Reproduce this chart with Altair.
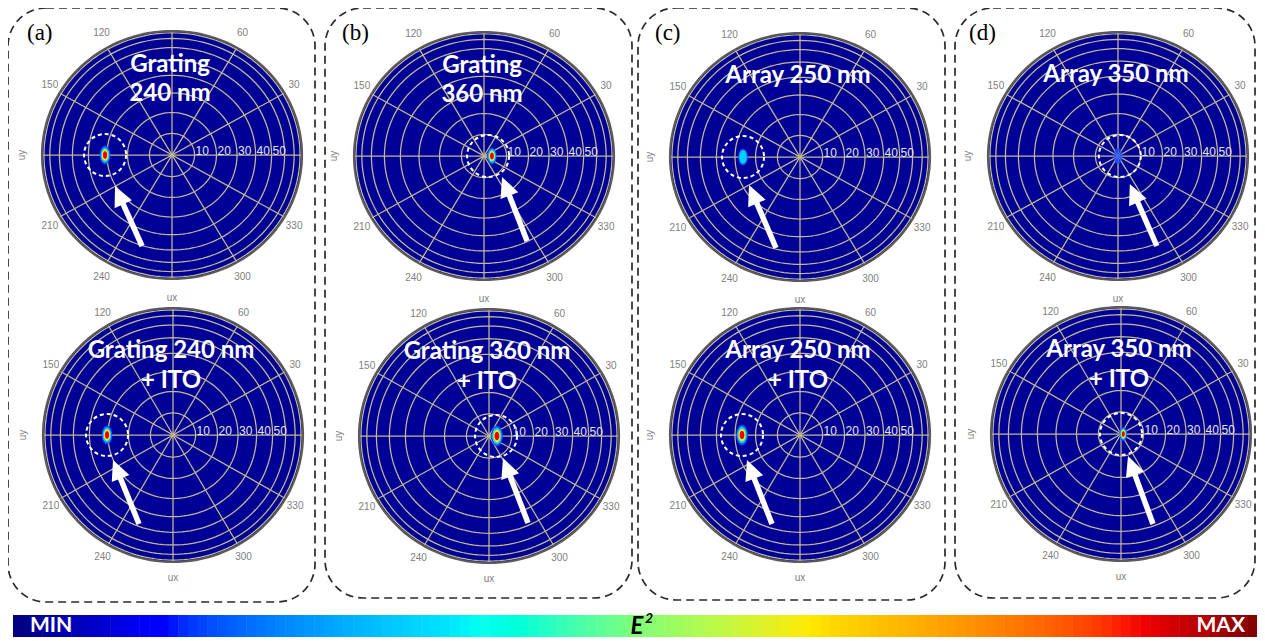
import numpy as np
import pandas as pd
import altair as alt

# ---------------- values ----------------
panel_tags = ["(a)", "(b)", "(c)", "(d)"]
title_top = [["Grating", "240 nm"], ["Grating", "360 nm"], ["Array 250 nm"], ["Array 350 nm"]]
title_bottom = [["Grating 240 nm", "+ ITO"], ["Grating 360 nm", "+ ITO"],
                ["Array 250 nm", "+ ITO"], ["Array 350 nm", "+ ITO"]]
ring_deg = [10, 20, 30, 40, 50, 60, 70, 80]          # polar-angle grid circles
ring_label_deg = [10, 20, 30, 40, 50]
spoke_deg = [0, 30, 60, 90, 120, 150]
azimuth_label_deg = [30, 60, 120, 150, 210, 240, 300, 330]
# emission spot: polar angle (deg), azimuth (deg), relative peak E^2, relative spread
spot_theta_top = [31.0, 3.5, 26.0, 0.0]
spot_phi_top = [180, 0, 180, 0]
spot_peak_top = [1.0, 0.95, 0.45, 0.15]
spot_spread_top = [0.95, 0.85, 0.85, 0.8]
spot_theta_bottom = [30.5, 3.5, 26.5, 1.0]
spot_phi_bottom = [180, 0, 180, 0]
spot_peak_bottom = [1.0, 1.0, 1.0, 0.9]
spot_spread_bottom = [0.95, 1.05, 1.05, 0.7]
# dashed marker circle centre (polar angle, azimuth)
mark_theta_top = [31.0, 1.8, 26.0, 0.8]
mark_theta_bottom = [30.5, 3.1, 26.5, 0.0]
colorbar_text = ["MIN", "E\u00b2", "MAX"]

# ---------------- layout / style ----------------
W, H = 1249, 630
centers_top = [(172, 155), (484, 156), (800, 157), (1118, 156)]
centers_bottom = [(173, 435), (489, 436), (800, 435), (1121, 434)]
RX, RY_TOP, RY_BOT = 130, 124, 127
boxes = [(8, 315, 8, 602), (325, 632, 8, 598), (638, 945, 8, 600), (955, 1255, 8, 598)]
tag_pos = [(27, 33), (342, 33), (655, 33), (969, 33)]
arrow_tip_top = [(10, 31), (14, 21), (6, 28), (10, 28)]
arrow_tail_top = [(37, 91), (39, 85), (33, 91), (37, 90)]
arrow_tip_bottom = [(6, 25), (7, 22), (5, 25), (7, 22)]
arrow_tail_bottom = [(32, 89), (32, 87), (30, 89), (32, 90)]
DISK = "#000096"
GRID = "#c2b994"
jet_stops = [0.0, 0.11, 0.125, 0.35, 0.375, 0.5, 0.64, 0.66, 0.89, 0.91, 1.0]
jet_cols = ["#000080", "#0000ff", "#0000ff", "#00e4ff", "#10fff0", "#7dff7a",
            "#ffea00", "#ffd700", "#ff1a00", "#ef0000", "#800000"]

xs = alt.Scale(domain=[8, 8 + W], nice=False, zero=False)
ys = alt.Scale(domain=[8 + H, 8], nice=False, zero=False)


def XY(xf="x", yf="y"):
    return dict(x=alt.X(f"{xf}:Q", scale=xs, axis=None), y=alt.Y(f"{yf}:Q", scale=ys, axis=None))


panels = []
for c in range(4):
    for r, cen in enumerate([centers_top[c], centers_bottom[c]]):
        top = r == 0
        panels.append(dict(
            pid=f"{c}{r}", cx=cen[0], cy=cen[1], rx=RX, ry=RY_TOP if top else RY_BOT,
            titles=title_top[c] if top else title_bottom[c],
            st=(spot_theta_top if top else spot_theta_bottom)[c],
            sp=(spot_phi_top if top else spot_phi_bottom)[c],
            pk=(spot_peak_top if top else spot_peak_bottom)[c],
            sw=(spot_spread_top if top else spot_spread_bottom)[c],
            mt=(mark_theta_top if top else mark_theta_bottom)[c],
            tip=(arrow_tip_top if top else arrow_tip_bottom)[c],
            tail=(arrow_tail_top if top else arrow_tail_bottom)[c],
            top=top))

# disks (filled)
rows = []
t = np.linspace(0, np.pi, 181)
for p in panels:
    for ti in t:
        rows.append(dict(pid=p["pid"], x=p["cx"] + p["rx"] * np.cos(ti),
                         y=p["cy"] - p["ry"] * np.sin(ti), y2=p["cy"] + p["ry"] * np.sin(ti)))
disk_df = pd.DataFrame(rows)

# rings
rows = []
tt = np.linspace(0, 2 * np.pi, 145)
for p in panels:
    for d in ring_deg + [90]:
        u = np.sin(np.radians(d))
        for k, ti in enumerate(tt):
            rows.append(dict(key=f"{p['pid']}_{d}", ring=d, o=k,
                             x=p["cx"] + p["rx"] * u * np.cos(ti),
                             y=p["cy"] - p["ry"] * u * np.sin(ti)))
ring_df = pd.DataFrame(rows)
grid_df = ring_df[ring_df.ring < 90]
edge_df = ring_df[ring_df.ring == 90]

# spokes
rows = []
for p in panels:
    for a in spoke_deg:
        ca, sa = np.cos(np.radians(a)), np.sin(np.radians(a))
        rows.append(dict(x=p["cx"] + p["rx"] * ca, y=p["cy"] - p["ry"] * sa,
                         x2=p["cx"] - p["rx"] * ca, y2=p["cy"] + p["ry"] * sa))
spoke_df = pd.DataFrame(rows)

# spots
blob_levels = [(0.0, 10.0, "#1a4dff", 0.9), (0.35, 8.0, "#00cfff", 1.0),
               (0.6, 6.0, "#f0ec10", 1.0), (0.85, 4.0, "#e80000", 1.0)]
rows = []
for p in panels:
    u = np.sin(np.radians(p["st"]))
    bx = p["cx"] + p["rx"] * u * np.cos(np.radians(p["sp"]))
    by = p["cy"] - p["ry"] * u * np.sin(np.radians(p["sp"]))
    faint = p["pk"] < 0.3
    for thr, hh, col, op in blob_levels:
        if p["pk"] >= thr:
            rows.append(dict(x=bx, y=by, size=(2 * hh * p["sw"]) ** 2, col=col,
                             op=0.75 if faint else op))
blob_df = pd.DataFrame(rows)
ell = " ".join(("M" if i == 0 else "L") + f"{0.56*np.cos(a):.3f},{np.sin(a):.3f}"
               for i, a in enumerate(np.linspace(0, 2 * np.pi, 33)[:-1])) + " Z"

# marker circles + arrows
rows, arows = [], []
for p in panels:
    u = np.sin(np.radians(p["mt"]))
    mx = p["cx"] + p["rx"] * u * np.cos(np.radians(p["sp"]))
    my = p["cy"] - p["ry"] * u * np.sin(np.radians(p["sp"]))
    rows.append(dict(x=mx, y=my))
    tx, ty = mx + p["tip"][0], my + p["tip"][1]
    lx, ly = mx + p["tail"][0], my + p["tail"][1]
    dx, dy = tx - lx, ty - ly
    L = np.hypot(dx, dy)
    ang = np.degrees(np.arctan2(dx, -dy)) % 360
    arows.append(dict(x=lx, y=ly, x2=tx - dx / L * 14, y2=ty - dy / L * 14,
                      hx=tx, hy=ty, ang=ang))
circ_df = pd.DataFrame(rows)
arrow_df = pd.DataFrame(arows)
head_path = "M0,0 L-0.95,2 L0.95,2 Z"

# texts
az_rows, rl_rows, ax_rows, ti_rows = [], [], [], []
for p in panels:
    for a in azimuth_label_deg:
        az_rows.append(dict(x=p["cx"] + 141 * np.cos(np.radians(a)),
                            y=p["cy"] - 141 * np.sin(np.radians(a)), t=str(a)))
    for d in ring_label_deg:
        rl_rows.append(dict(x=p["cx"] + p["rx"] * np.sin(np.radians(d)) + 1,
                            y=p["cy"] - 4, t=str(d)))
    ax_rows.append(dict(x=p["cx"], y=p["cy"] + 143, t="ux", a=0))
    ax_rows.append(dict(x=p["cx"] - 150, y=p["cy"], t="uy", a=270))
    tl = p["titles"]
    if p["top"]:
        offs = [-90, -61] if len(tl) == 2 else [-81]
    else:
        offs = [-84, -54]
    for s, o in zip(tl, offs):
        ti_rows.append(dict(x=p["cx"] - 2, y=p["cy"] + o, t=s))
az_df = pd.DataFrame(az_rows)
rl_df = pd.DataFrame(rl_rows)
ax_df = pd.DataFrame(ax_rows)
ti_df = pd.DataFrame(ti_rows)
tag_df = pd.DataFrame(dict(x=[q[0] for q in tag_pos], y=[q[1] for q in tag_pos], t=panel_tags))
box_df = pd.DataFrame(dict(x=[b[0] for b in boxes], x2=[b[1] for b in boxes],
                           y=[b[2] for b in boxes], y2=[b[3] for b in boxes]))

# colorbar
NB = 128
CB_X0, CB_X1, CB_Y0, CB_Y1 = 13, 1257, 615, 637
bw = (CB_X1 - CB_X0) / NB
cb_df = pd.DataFrame(dict(x=[CB_X0 + i * bw for i in range(NB)],
                          x2=[CB_X0 + (i + 1) * bw + 0.5 for i in range(NB)],
                          v=[(i + 0.5) / NB for i in range(NB)]))
cb_df["y"] = CB_Y0
cb_df["y2"] = CB_Y1
e_sym, e_pow = colorbar_text[1][0], "2"
cbt_df = pd.DataFrame(dict(x=[30, 1245], y=[626, 626], t=[colorbar_text[0], colorbar_text[2]]))
e_df = pd.DataFrame(dict(x=[637], y=[627], t=[e_sym]))
p_df = pd.DataFrame(dict(x=[649], y=[619], t=[e_pow]))

# ---------------- layers ----------------
box = alt.Chart(box_df).mark_rect(fill="transparent", stroke="#2a2a2a", strokeWidth=1.7,
                                  strokeDash=[8, 5], cornerRadius=38).encode(
    **XY(), x2="x2:Q", y2="y2:Q")
disk = alt.Chart(disk_df).mark_area(color=DISK, opacity=1).encode(
    **XY(), y2="y2:Q", detail="pid:N")
grid = alt.Chart(grid_df).mark_line(color=GRID, strokeWidth=1.25).encode(
    **XY(), detail="key:N", order="o:Q")
spokes = alt.Chart(spoke_df).mark_rule(color=GRID, strokeWidth=1.25).encode(
    **XY(), x2="x2:Q", y2="y2:Q")
edge = alt.Chart(edge_df).mark_line(color="#5a5a5a", strokeWidth=2.2).encode(
    **XY(), detail="key:N", order="o:Q")
blobs = alt.Chart(blob_df).mark_point(shape=ell, filled=True, strokeWidth=0).encode(
    **XY(), color=alt.Color("col:N", scale=None), size=alt.Size("size:Q", scale=None),
    opacity=alt.Opacity("op:Q", scale=None))
circ = alt.Chart(circ_df).mark_point(shape="circle", filled=False, color="white",
                                     strokeWidth=2, strokeDash=[4, 3], opacity=1).encode(
    **XY(), size=alt.value(1764))
shaft = alt.Chart(arrow_df).mark_rule(color="white", strokeWidth=5.5, strokeCap="butt").encode(
    **XY(), x2="x2:Q", y2="y2:Q")
head = alt.Chart(arrow_df).mark_point(shape=head_path, filled=True, color="white",
                                      strokeWidth=0, opacity=1).encode(
    **XY("hx", "hy"), angle=alt.Angle("ang:Q", scale=None), size=alt.value(400))
az_txt = alt.Chart(az_df).mark_text(font="Liberation Sans", fontSize=10, color="#808080").encode(
    **XY(), text="t:N")
rl_txt = alt.Chart(rl_df).mark_text(font="Liberation Sans", fontSize=12, color="#e4e4e4",
                                    align="left", baseline="middle").encode(**XY(), text="t:N")
ax_txt = alt.Chart(ax_df).mark_text(font="Liberation Sans", fontSize=10, color="#808080").encode(
    **XY(), text="t:N", angle=alt.Angle("a:Q", scale=None))
ti_txt = alt.Chart(ti_df).mark_text(font="Lato", fontWeight="bold", fontSize=24, color="white",
                                    baseline="middle").encode(**XY(), text="t:N")
tag_txt = alt.Chart(tag_df).mark_text(font="Liberation Serif", fontSize=23, color="black",
                                      align="left", baseline="middle").encode(**XY(), text="t:N")
cbar = alt.Chart(cb_df).mark_rect().encode(
    **XY(), x2="x2:Q", y2="y2:Q",
    color=alt.Color("v:Q", scale=alt.Scale(domain=jet_stops, range=jet_cols), legend=None))
cb_min = alt.Chart(cbt_df.iloc[[0]]).mark_text(
    font="Lato", fontWeight="bold", fontSize=21, color="white", baseline="middle",
    align="left").encode(**XY(), text="t:N")
cb_max = alt.Chart(cbt_df.iloc[[1]]).mark_text(
    font="Lato", fontWeight="bold", fontSize=21, color="white", baseline="middle",
    align="right").encode(**XY(), text="t:N")
cb_e = alt.Chart(e_df).mark_text(
    font="Lato", fontWeight="bold", fontStyle="italic", fontSize=24, color="black",
    baseline="middle").encode(**XY(), text="t:N")
cb_p = alt.Chart(p_df).mark_text(
    font="Lato", fontWeight="bold", fontStyle="italic", fontSize=14, color="black",
    baseline="middle").encode(**XY(), text="t:N")

chart = alt.layer(box, disk, grid, spokes, edge, blobs, circ, shaft, head, az_txt, rl_txt,
                  ax_txt, ti_txt, tag_txt, cbar, cb_min, cb_max, cb_e, cb_p).properties(
    width=W, height=H, autosize=alt.AutoSizeParams(type="none"), padding=0,
    background="white").configure_view(stroke=None)

chart.save("out.html", embed_options={"renderer": "svg", "actions": False})
